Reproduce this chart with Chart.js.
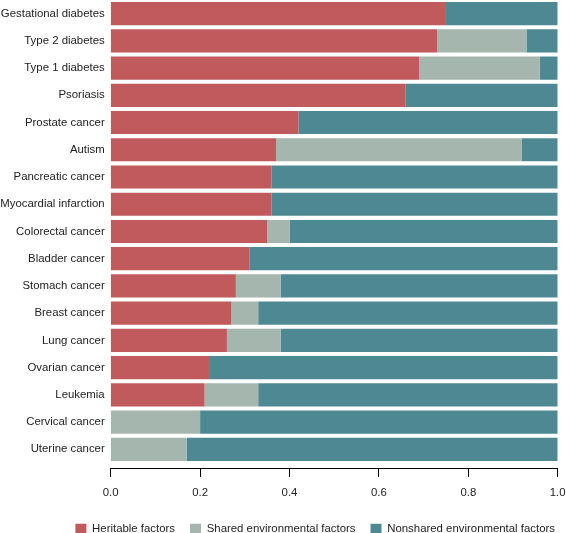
<!DOCTYPE html>
<html><head><meta charset="utf-8">
<script src="https://cdn.jsdelivr.net/npm/chart.js@4/dist/chart.umd.min.js"></script>
<style>html,body{margin:0;padding:0;background:#fff}#wrap{width:566px;height:533px;position:relative}</style>
</head><body><div id="wrap"><canvas id="c" width="566" height="533"></canvas></div>
<script>
const categories = ['Gestational diabetes','Type 2 diabetes','Type 1 diabetes','Psoriasis','Prostate cancer','Autism','Pancreatic cancer','Myocardial infarction','Colorectal cancer','Bladder cancer','Stomach cancer','Breast cancer','Lung cancer','Ovarian cancer','Leukemia','Cervical cancer','Uterine cancer'];
const heritable    = [0.75,0.73,0.69,0.66,0.42,0.37,0.36,0.36,0.35,0.31,0.28,0.27,0.26,0.22,0.21,0.00,0.00];
const sharedEnv    = [0.00,0.20,0.27,0.00,0.00,0.55,0.00,0.00,0.05,0.00,0.10,0.06,0.12,0.00,0.12,0.20,0.17];
const nonsharedEnv = [0.25,0.07,0.04,0.34,0.58,0.08,0.64,0.64,0.60,0.69,0.62,0.67,0.62,0.78,0.67,0.80,0.83];
const seriesNames  = ['Heritable factors','Shared environmental factors','Nonshared environmental factors'];
const xTickValues  = [0, 0.2, 0.4, 0.6, 0.8, 1.0];

const FONT = {family: '"Liberation Sans", Arial, sans-serif', size: 11.4};
const TXT = '#222';

// let the category labels use the full left margin (avoid clipping at the layout padding)
const widenLabelArea = {
  id: 'widenLabelArea',
  afterLayout(chart) { chart.scales.y.left = 0; }
};

new Chart(document.getElementById('c'), {
  type: 'bar',
  data: {
    labels: categories,
    datasets: [
      {label: seriesNames[0], data: heritable, backgroundColor: '#C05A5D'},
      {label: seriesNames[1], data: sharedEnv, backgroundColor: '#A5B6AF'},
      {label: seriesNames[2], data: nonsharedEnv, backgroundColor: '#4E8993'}
    ]
  },
  plugins: [widenLabelArea],
  options: {
    indexAxis: 'y',
    responsive: false,
    animation: false,
    datasets: {bar: {barPercentage: 0.85, categoryPercentage: 1, borderWidth: 0}},
    layout: {padding: {top: -2, bottom: -12, left: 4, right: -4}},
    plugins: {
      tooltip: {enabled: false},
      legend: {
        position: 'bottom',
        align: 'end',
        labels: {boxWidth: 11, boxHeight: 11, padding: 15, color: TXT, font: FONT}
      }
    },
    scales: {
      y: {
        type: 'category',
        stacked: true,
        grid: {display: false, drawTicks: true, tickLength: 6},
        border: {display: false},
        ticks: {color: TXT, font: FONT, padding: 0, autoSkip: false},
        afterFit: s => { s.width = 106.7; s.paddingTop = 0; s.paddingBottom = 0; }
      },
      x: {
        type: 'linear',
        stacked: true,
        min: 0, max: 1,
        position: 'bottom',
        weight: 0,
        grid: {display: false, drawTicks: false},
        border: {display: false},
        ticks: {display: false},
        afterFit: s => { s.height = 6; s.paddingLeft = 0; s.paddingRight = 0; }
      },
      x2: {
        type: 'linear',
        min: 0, max: 1,
        position: 'bottom',
        weight: 1,
        afterBuildTicks: s => { s.ticks = xTickValues.map(v => ({value: v})); },
        grid: {drawOnChartArea: false, drawTicks: true, tickLength: 8, color: '#000', lineWidth: 1},
        border: {display: true, color: '#000', width: 1},
        ticks: {color: TXT, font: FONT, padding: 9, callback: v => Number(v).toFixed(1)},
        afterFit: s => { s.paddingLeft = 0; s.paddingRight = 8.3; }
      }
    }
  }
});
</script>
</body></html>
